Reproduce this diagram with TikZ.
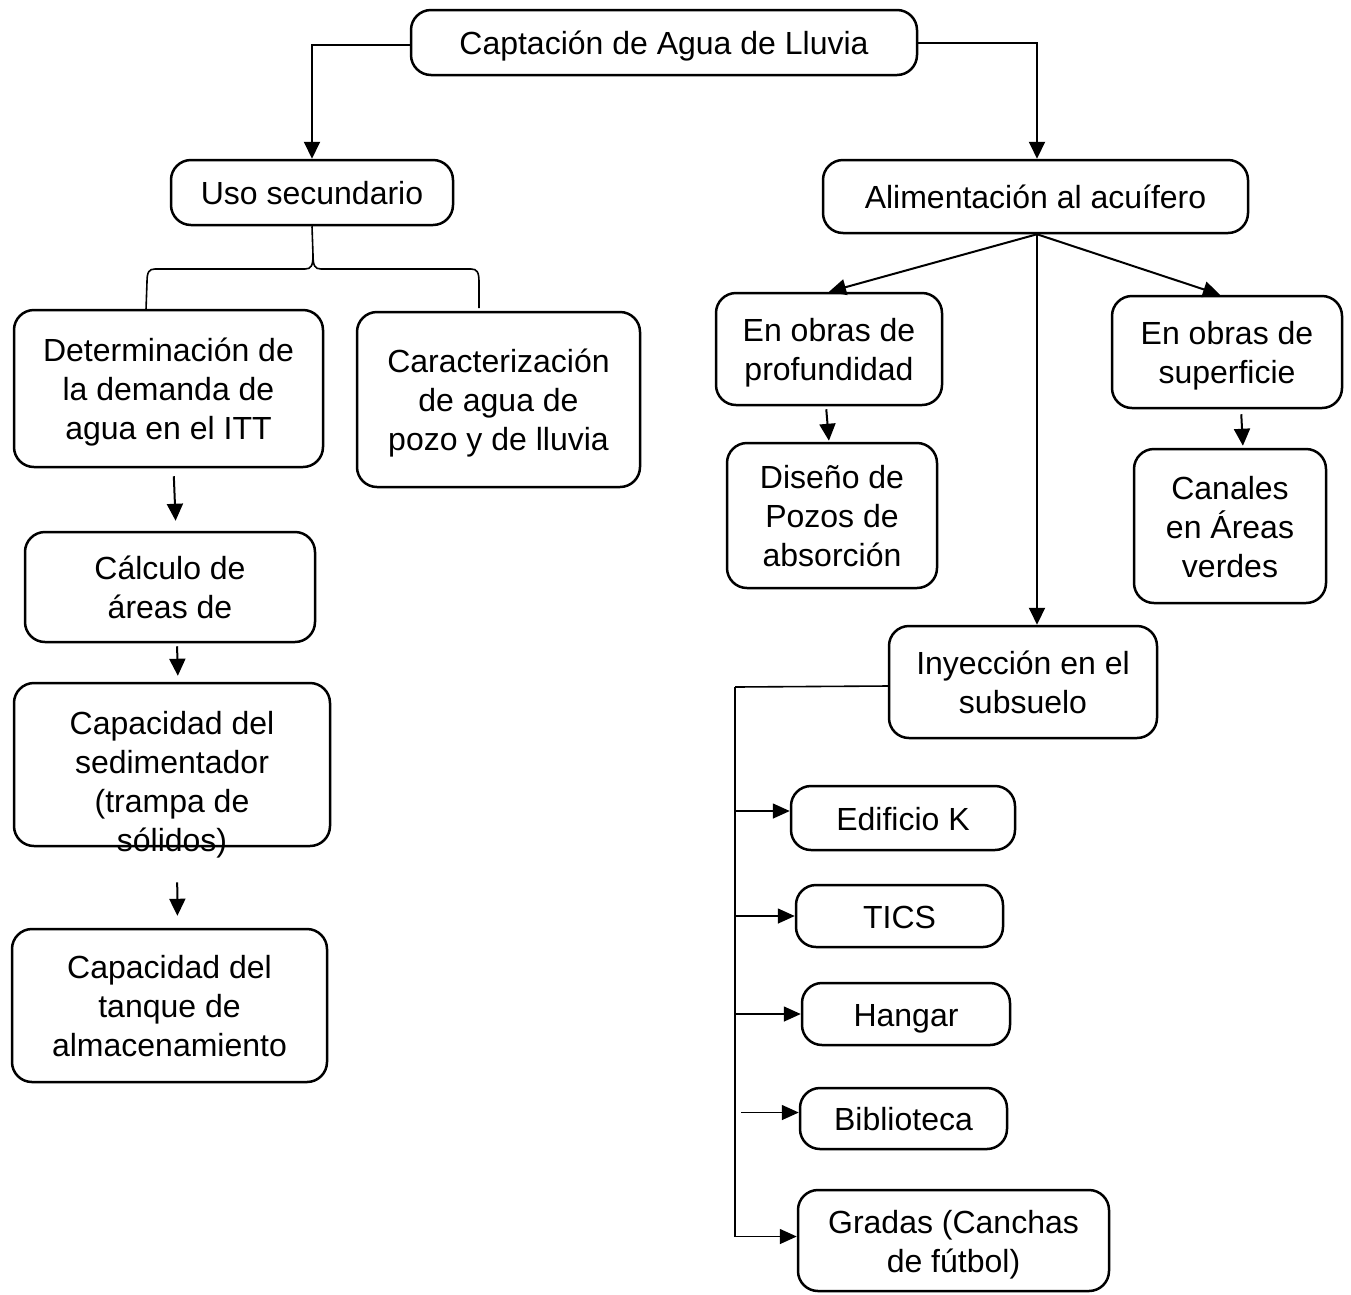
\documentclass[tikz,border=0pt]{standalone}
\usepackage{fontspec}
\setmainfont{Liberation Sans}
\usetikzlibrary{arrows.meta}
\newcommand\fs{\rule{0pt}{31pt}}
\begin{document}
\begin{tikzpicture}[x=1pt,y=-1pt,
  txt/.style={align=center, inner sep=0pt, font=\fontsize{32}{39}\selectfont,
              execute at begin node={\rule{0pt}{31pt}},
              execute at end node={\rule[-7pt]{0pt}{7pt}}},
  box/.style={txt, draw, line width=2.5pt, rounded corners=20pt},
  arr/.style={line width=2pt, -{Triangle[length=17pt,width=16pt]}},
  arrb/.style={line width=1.6pt, -{Triangle[length=17pt,width=15pt]}},
  ln/.style={line width=1.6pt}]
\useasboundingbox (0,0) rectangle (1351,1294);

% boxes
\node[box, minimum width=506pt, minimum height=65pt] (top) at (664,42.5) {Captaci\'on de Agua de Lluvia};
\node[box, minimum width=282pt, minimum height=65pt] (uso) at (312,192.5) {Uso secundario};
\node[box, minimum width=425pt, minimum height=73pt] (alim) at (1035.5,196.5) {Alimentaci\'on al acu\'ifero};
\node[box, minimum width=309pt, minimum height=157pt] (det) at (168.5,388.5) {\fs Determinaci\'on de\\la demanda de\\agua en el ITT};
\node[box, minimum width=283pt, minimum height=175pt] (car) at (498.5,399.5) {\fs Caracterizaci\'on\\de agua de\\pozo y de lluvia};
\node[box, minimum width=290pt, minimum height=110pt] (calc) at (170,587) {\fs C\'alculo de\\\'areas de};
\node[box, minimum width=316pt, minimum height=163pt] (sed) at (172,764.5) {};
\node[txt] (sedt) at (172,785) {Capacidad del\\sedimentador\\(trampa de\\s\'olidos)};
\node[box, minimum width=315pt, minimum height=153pt] (tan) at (169.5,1005.5) {\fs Capacidad del\\tanque de\\almacenamiento};
\node[box, minimum width=226pt, minimum height=112pt] (prof) at (829,349) {\fs En obras de\\profundidad};
\node[box, minimum width=210pt, minimum height=145pt] (dis) at (832,515.5) {\fs Dise\~no de\\Pozos de\\absorci\'on};
\node[box, minimum width=230pt, minimum height=112pt] (sup) at (1227,352) {\fs En obras de\\superficie};
\node[box, minimum width=192pt, minimum height=154pt] (can) at (1230,526) {\fs Canales\\en \'Areas\\verdes};
\node[box, minimum width=268pt, minimum height=112pt] (iny) at (1023,682) {\fs Inyecci\'on en el\\subsuelo};
\node[box, minimum width=224pt, minimum height=64pt] (edk) at (903,818) {Edificio K};
\node[box, minimum width=207pt, minimum height=62pt] (tic) at (899.5,916) {TICS};
\node[box, minimum width=208pt, minimum height=62pt] (han) at (906,1014) {Hangar};
\node[box, minimum width=207pt, minimum height=61pt] (bib) at (903.5,1118.5) {Biblioteca};
\node[box, minimum width=311pt, minimum height=101pt] (gra) at (953.5,1240.5) {\fs Gradas (Canchas\\de f\'utbol)};

% top connectors
\draw[arr] ([yshift=-2pt]top.west) -| (uso.north);
\draw[arr] (top.east) -| ([xshift=1.5pt]alim.north);

% brace under Uso secundario
\coordinate (cusp) at (313,255);
\draw[ln] (uso.south) -- (cusp);
\draw[ln] (cusp) .. controls (313,266) and (311,269) .. (305,269) -- (155,269)
  .. controls (149,269) and (147,272) .. (147,282) -- (146,310);
\draw[ln] (cusp) .. controls (313,266) and (315,269) .. (321,269) -- (471,269)
  .. controls (477,269) and (479,272) .. (479,282) -- (479,308);

% left column arrows
\draw[arr, shorten <=8pt, shorten >=10pt] ([xshift=5pt]det.south) -- ([xshift=6pt]calc.north);
\draw[arr, shorten <=3pt, shorten >=6pt] ([xshift=7pt]calc.south) -- ([xshift=6pt]sed.north);
\draw[arr, shorten <=35pt, shorten >=12pt] ([xshift=5pt]sed.south) -- ([xshift=8pt]tan.north);

% alimentacion branches
\draw[arr] ([xshift=1.5pt]alim.south) -- (prof.north);
\draw[arr] ([xshift=1.5pt]alim.south) -- ([xshift=-7pt]sup.north);
\draw[arr] ([xshift=1.5pt]alim.south) -- ([xshift=1.5pt]alim.south |- iny.north);
\draw[arr, shorten <=3pt, shorten >=1pt] ([xshift=-3pt]prof.south) -- ([xshift=-3pt]dis.north);
\draw[arr, shorten <=5pt, shorten >=2pt] ([xshift=14pt]sup.south) -- ([xshift=13pt]can.north);

% inyeccion trunk
\coordinate (trunk) at (735,687);
\coordinate (edkin) at ([yshift=7pt]edk.west);
\coordinate (bibin) at ([yshift=6pt]bib.west);
\coordinate (grain) at ([yshift=4pt]gra.west);
\draw[ln] ([yshift=-4pt]iny.west) -- (trunk);
\draw[arrb] (trunk) |- (grain);
\draw[arrb] (trunk |- edkin) -- (edkin);
\draw[arrb] (trunk |- tic.west) -- (tic.west);
\draw[arrb] (trunk |- han.west) -- (han.west);
\draw[arrb] ([xshift=6pt]trunk |- bibin) -- (bibin);
\end{tikzpicture}
\end{document}
